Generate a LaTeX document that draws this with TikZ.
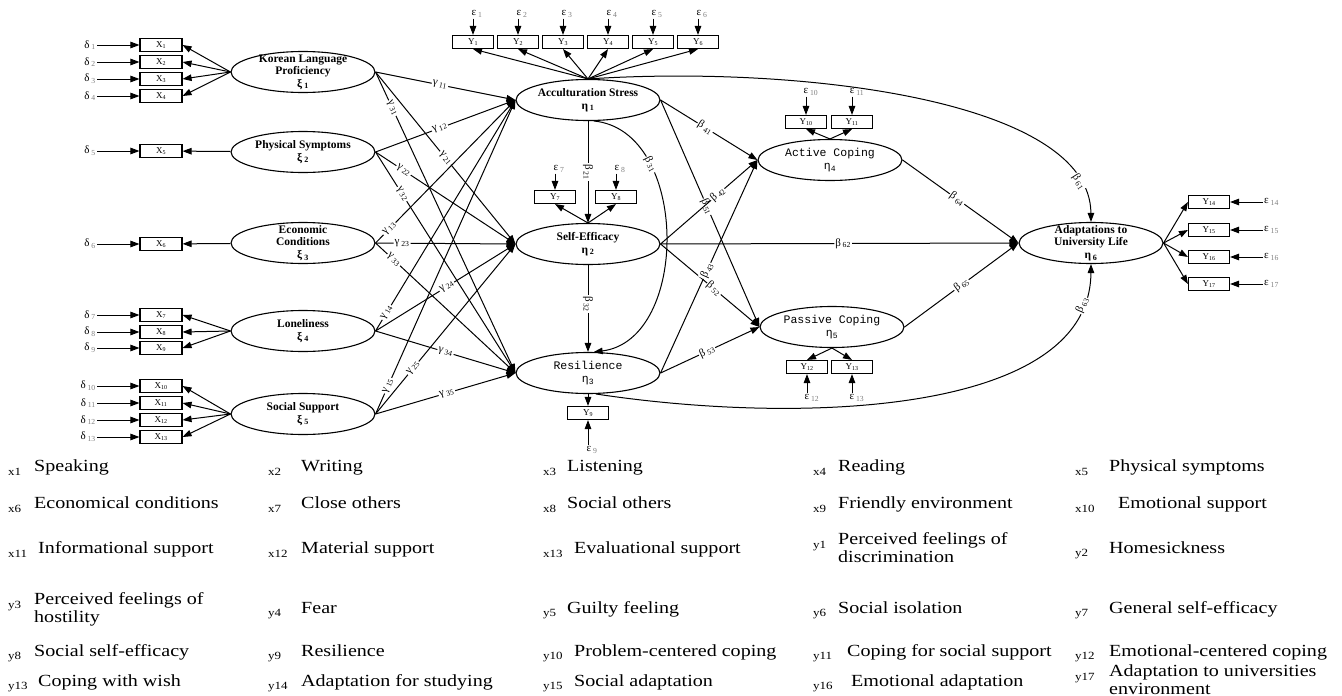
\documentclass[tikz,border=0pt]{standalone}
\usepackage{fontspec}
\setmainfont{Liberation Serif}
\newfontfamily\monofont{Liberation Mono}
\newfontfamily\legfont[FakeStretch=1.18]{Liberation Serif}
\usetikzlibrary{shapes.geometric,arrows.meta,positioning,calc}

\newcommand\cf[2]{#1\,\textsubscript{#2}}
\newcommand\gsub[1]{\,\textsubscript{\textcolor{gray}{#1}}}
\newcommand\legitem[6]{%
  \node[legnum] (#1n) at (#2,#4+4) {#5};
  \node[legtxt] (#1) at (#3,#4) {\strut#6\strut};}

\tikzset{
  latent/.style={draw, ellipse, line width=1.1pt, minimum width=144pt, minimum height=41pt,
    inner sep=0pt, align=center, font=\bfseries\fontsize{11.5}{12.5}\selectfont},
  latentm/.style={latent, font=\monofont\fontsize{11.5}{13}\selectfont},
  obs/.style={draw, line width=1.1pt, minimum width=41pt, minimum height=13pt, inner sep=0pt,
    font=\fontsize{9}{9}\selectfont},
  arr/.style={line width=1pt, -{Triangle[length=9pt,width=6.5pt]}},
  coef/.style={fill=white, inner sep=1pt, sloped, font=\fontsize{11}{11}\selectfont},
  err/.style={inner sep=1pt, font=\fontsize{11}{11}\selectfont},
  legnum/.style={anchor=west, inner sep=0pt, font=\legfont\fontsize{11}{11}\selectfont},
  legtxt/.style={anchor=west, inner sep=0pt, align=left, font=\legfont\fontsize{17}{16}\selectfont},
}

\begin{document}
\begin{tikzpicture}[x=1pt,y=-1pt]
\fill[white] (0,0) rectangle (1342,696);
\useasboundingbox (0,0) rectangle (1342,696);

% exogenous latent variables
\node[latent, inner ysep=-4pt] (ksi1) at (303,72) {Korean Language\\Proficiency\\ξ\,\textsubscript{1}};
\node[latent] (ksi2) at (303,152) {Physical Symptoms\\ξ\,\textsubscript{2}};
\node[latent, inner ysep=-4pt] (ksi3) at (303,243) {Economic\\Conditions\\ξ\,\textsubscript{3}};
\node[latent] (ksi4) at (303,331) {Loneliness\\ξ\,\textsubscript{4}};
\node[latent] (ksi5) at (303,414) {Social Support\\ξ\,\textsubscript{5}};

% endogenous latent variables
\node[latent] (acc) at (588,100) {Acculturation Stress\\η\,\textsubscript{1}};
\node[latent] (sef) at (588,244) {Self-Efficacy\\η\,\textsubscript{2}};
\node[latentm] (res) at (588,373) {Resilience\\η\textsubscript{3}};
\node[latentm] (act) at (830,160) {Active Coping\\η\textsubscript{4}};
\node[latentm] (pas) at (832,327) {Passive Coping\\η\textsubscript{5}};
\node[latent, inner ysep=-4pt] (ada) at (1091,243) {Adaptations to\\University Life\\η\,\textsubscript{6}};

% x indicators
\foreach \i/\y in {1/45,2/62,3/79,4/96,5/151,6/244,7/315,8/332,9/348,10/386,11/403,12/420,13/437}{
  \node[obs, minimum width=42pt] (x\i) at (161,\y) {X\textsubscript{\i}};
  \node[err, anchor=east] (d\i) at (97,\y) {δ\gsub{\i}};
  \draw[arr] (d\i) -- (x\i);
}
\foreach \i in {1,...,4} \draw[arr] (ksi1.west) -- (x\i.east);
\draw[arr] (ksi2) -- (x5);
\draw[arr] (ksi3) -- (x6);
\foreach \i in {7,8,9} \draw[arr] (ksi4.west) -- (x\i.east);
\foreach \i in {10,...,13} \draw[arr] (ksi5.west) -- (x\i.east);

% y indicators of acculturation stress
\foreach \i in {1,...,6}{
  \node[obs] (y\i) at ({473+45*(\i-1)},42) {Y\textsubscript{\i}};
  \node[err] (e\i) at ({477+45*(\i-1)},14) {ε\gsub{\i}};
  \draw[arr] (e\i.south -| y\i.north) -- (y\i.north);
  \draw[arr] (acc.north) -- (y\i.south);
}

% other y indicators
\node[obs] (y7) at (555,197) {Y\textsubscript{7}};
\node[obs] (y8) at (616,197) {Y\textsubscript{8}};
\node[err] (e7) at (559,169) {ε\gsub{7}};
\node[err] (e8) at (620,169) {ε\gsub{8}};
\draw[arr] (e7.south -| y7.north) -- (y7.north);
\draw[arr] (e8.south -| y8.north) -- (y8.north);
\draw[arr] (sef.north) -- (y7.south);
\draw[arr] (sef.north) -- (y8.south);

\node[obs] (y9) at (588,413) {Y\textsubscript{9}};
\node[err] (e9) at (592,450) {ε\gsub{9}};
\draw[arr] (e9.north -| y9.south) -- (y9.south);
\draw[arr] (res.south) -- (y9.north);

\node[obs] (y10) at (806,122) {Y\textsubscript{10}};
\node[obs] (y11) at (852,122) {Y\textsubscript{11}};
\node[err] (e10) at (811,92) {ε\gsub{10}};
\node[err] (e11) at (857,92) {ε\gsub{11}};
\draw[arr] (e10.south -| y10.north) -- (y10.north);
\draw[arr] (e11.south -| y11.north) -- (y11.north);
\draw[arr] (act.north) -- (y10.south);
\draw[arr] (act.north) -- (y11.south);

\node[obs] (y12) at (807,367) {Y\textsubscript{12}};
\node[obs] (y13) at (852,367) {Y\textsubscript{13}};
\node[err] (e12) at (812,398) {ε\gsub{12}};
\node[err] (e13) at (857,398) {ε\gsub{13}};
\draw[arr] (e12.north -| y12.south) -- (y12.south);
\draw[arr] (e13.north -| y13.south) -- (y13.south);
\draw[arr] (pas.south) -- (y12.north);
\draw[arr] (pas.south) -- (y13.north);

\foreach \i/\y in {14/202,15/230,16/257,17/284}{
  \node[obs] (y\i) at (1209,\y) {Y\textsubscript{\i}};
  \node[err, anchor=west] (e\i) at (1263,\y) {ε\gsub{\i}};
  \draw[arr] (e\i) -- (y\i);
  \draw[arr] (ada.east) -- (y\i.west);
}

% gamma paths
\draw[arr] (ksi1.east) -- (acc.west) node[coef,pos=.46] {\cf{γ}{11}};
\draw[arr] (ksi1.east) -- (sef.west) node[coef,pos=.5] {\cf{γ}{21}};
\draw[arr] (ksi1.east) -- (res.west) node[coef,pos=.12] {\cf{γ}{31}};
\draw[arr] (ksi2.east) -- (acc.west) node[coef,pos=.46] {\cf{γ}{12}};
\draw[arr] (ksi2.east) -- (sef.west) node[coef,pos=.2] {\cf{γ}{22}};
\draw[arr] (ksi2.east) -- (res.west) node[coef,pos=.19] {\cf{γ}{32}};
\draw[arr] (ksi3.east) -- (acc.west) node[coef,pos=.1] {\cf{γ}{13}};
\draw[arr] (ksi3.east) -- (sef.west) node[coef,pos=.19] {\cf{γ}{23}};
\draw[arr] (ksi3.east) -- (res.west) node[coef,pos=.13] {\cf{γ}{33}};
\draw[arr] (ksi4.east) -- (acc.west) node[coef,pos=.08] {\cf{γ}{14}};
\draw[arr] (ksi4.east) -- (sef.west) node[coef,pos=.51] {\cf{γ}{24}};
\draw[arr] (ksi4.east) -- (res.west) node[coef,pos=.5] {\cf{γ}{34}};
\draw[arr] (ksi5.east) -- (acc.west) node[coef,pos=.09] {\cf{γ}{15}};
\draw[arr] (ksi5.east) -- (sef.west) node[coef,pos=.27] {\cf{γ}{25}};
\draw[arr] (ksi5.east) -- (res.west) node[coef,pos=.51] {\cf{γ}{35}};

% beta paths
\draw[arr] (acc.south) -- (sef.north) node[coef,pos=.5] {\cf{β}{21}};
\draw[arr] (sef.south) -- (res.north) node[coef,pos=.45] {\cf{β}{32}};
\draw[arr] (acc.-75) .. controls (690,130) and (690,340) .. (res.75) node[coef,pos=.27] {\cf{β}{31}};
\draw[arr] (acc.east) -- (act.west) node[coef,pos=.46] {\cf{β}{41}};
\draw[arr] (acc.east) -- (pas.west) node[coef,pos=.47] {\cf{β}{51}};
\draw[arr] (sef.east) -- (act.west) node[coef,pos=.59] {\cf{β}{42}};
\draw[arr] (sef.east) -- (pas.west) node[coef,pos=.54] {\cf{β}{52}};
\draw[arr] (sef.east) -- (ada.west) node[coef,pos=.51] {\cf{β}{62}};
\draw[arr] (res.east) -- (act.west) node[coef,pos=.48] {\cf{β}{43}};
\draw[arr] (res.east) -- (pas.west) node[coef,pos=.47] {\cf{β}{53}};
\draw[arr] (act.east) -- (ada.west) node[coef,pos=.47] {\cf{β}{64}};
\draw[arr] (pas.east) -- (ada.west) node[coef,pos=.5] {\cf{β}{65}};
\draw[arr] (acc.north) .. controls (800,65) and (1090,100) .. (ada.north) node[coef,pos=.88] {\cf{β}{61}};
\draw[arr] (res.-70) .. controls (800,425) and (1090,415) .. (ada.south) node[coef,pos=.9] {\cf{β}{63}};

% legend
\legitem{l1}{8}{34}{468}{x1}{Speaking}
\legitem{l2}{268}{301}{468}{x2}{Writing}
\legitem{l3}{543}{567}{468}{x3}{Listening}
\legitem{l4}{813}{838}{468}{x4}{Reading}
\legitem{l5}{1075}{1109}{468}{x5}{Physical symptoms}
\legitem{l6}{8}{34}{505}{x6}{Economical conditions}
\legitem{l7}{268}{301}{505}{x7}{Close others}
\legitem{l8}{543}{567}{505}{x8}{Social others}
\legitem{l9}{813}{838}{505}{x9}{Friendly environment}
\legitem{l10}{1075}{1118}{505}{x10}{Emotional support}
\legitem{l11}{8}{38}{550}{x11}{Informational support}
\legitem{l12}{268}{301}{550}{x12}{Material support}
\legitem{l13}{543}{574}{550}{x13}{Evaluational support}
\node[legnum] (l14n) at (813,546) {y1};
\node[legtxt] (l14) at (838,550) {\strut Perceived feelings of\\discrimination\strut};
\legitem{l15}{1075}{1109}{550}{y2}{Homesickness}
\node[legnum] (l16n) at (8,606) {y3};
\node[legtxt] (l16) at (34,610) {\strut Perceived feelings of\\hostility\strut};
\legitem{l17}{268}{301}{610}{y4}{Fear}
\legitem{l18}{543}{567}{610}{y5}{Guilty feeling}
\legitem{l19}{813}{838}{610}{y6}{Social isolation}
\legitem{l20}{1075}{1109}{610}{y7}{General self-efficacy}
\legitem{l21}{8}{34}{653}{y8}{Social self-efficacy}
\legitem{l22}{268}{301}{653}{y9}{Resilience}
\legitem{l23}{543}{574}{653}{y10}{Problem-centered coping}
\legitem{l24}{813}{847}{653}{y11}{Coping for social support}
\legitem{l25}{1075}{1109}{653}{y12}{Emotional-centered coping}
\legitem{l26}{8}{38}{683}{y13}{Coping with wish}
\legitem{l27}{268}{301}{683}{y14}{Adaptation for studying}
\legitem{l28}{543}{574}{683}{y15}{Social adaptation}
\legitem{l29}{813}{851}{683}{y16}{Emotional adaptation}
\node[legnum] (l30n) at (1075,678) {y17};
\node[legtxt] (l30) at (1109,682) {\strut Adaptation to universities\\environment\strut};
\end{tikzpicture}
\end{document}
